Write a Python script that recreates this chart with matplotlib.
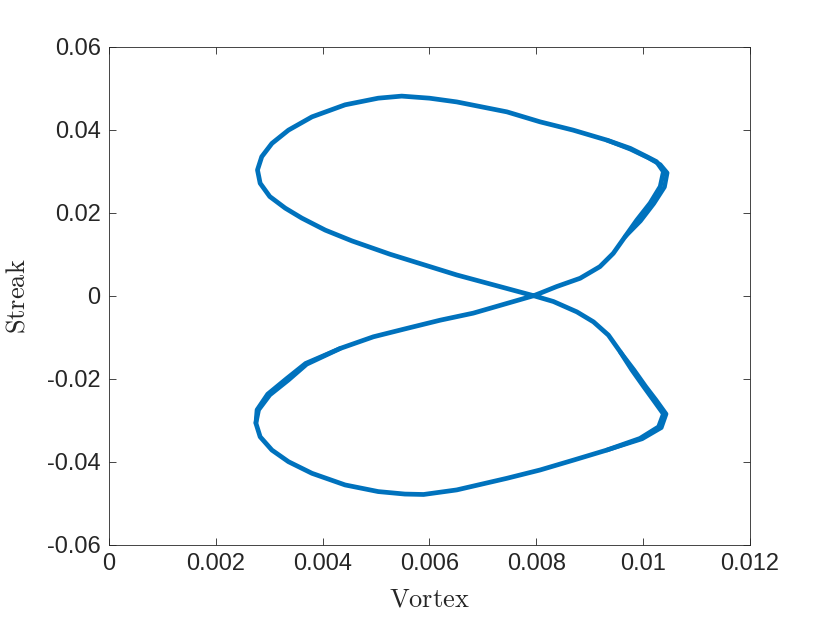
import matplotlib
matplotlib.use('Agg')
import matplotlib.pyplot as plt

plt.rcParams['mathtext.fontset'] = 'cm'

# phase portrait points (one full loop, starting at the crossing)
vortex = [0.00795, 0.00807, 0.00838, 0.00882, 0.00919, 0.00944, 0.00966, 0.00988,
          0.01013, 0.01032, 0.01038, 0.01025, 0.01007, 0.00976, 0.00932, 0.00869,
          0.00807, 0.00745, 0.00651, 0.0060, 0.00548, 0.00504, 0.00442, 0.0038,
          0.00336, 0.00305, 0.00286, 0.00278, 0.00283, 0.00301, 0.0033, 0.00361,
          0.00405, 0.00455, 0.00526, 0.00651, 0.00795,
          0.00832, 0.00876, 0.00907, 0.00935, 0.00957, 0.00979, 0.01001, 0.01019,
          0.01038, 0.01029,
          0.00994, 0.00932, 0.0087, 0.00807, 0.00745, 0.00651, 0.00589, 0.00554,
          0.00504, 0.00442, 0.0038, 0.00336, 0.00305, 0.00283, 0.00275, 0.0028,
          0.00301, 0.00336, 0.0037, 0.00433, 0.00495, 0.00557, 0.0062, 0.00682,
          0.00795]
streak = [0.0, 0.0006, 0.0022, 0.0042, 0.0070, 0.0102, 0.0142, 0.0182,
          0.0223, 0.0263, 0.0299, 0.0323, 0.0335, 0.0355, 0.0375, 0.0399,
          0.0419, 0.0443, 0.0467, 0.0476, 0.0481, 0.0476, 0.0460, 0.0431,
          0.0399, 0.0367, 0.0335, 0.0303, 0.0271, 0.0239, 0.0211, 0.0187,
          0.0158, 0.0132, 0.0100, 0.0050, 0.0,
          -0.0014, -0.0039, -0.0063, -0.0095, -0.0135, -0.0179, -0.0219, -0.0251,
          -0.0285, -0.0316,
          -0.0344, -0.0372, -0.0396, -0.0420, -0.0440, -0.0468, -0.0479, -0.0478,
          -0.0472, -0.0456, -0.0428, -0.0400, -0.0372, -0.0340, -0.0307, -0.0275,
          -0.0239, -0.0203, -0.0165, -0.0127, -0.0099, -0.0079, -0.0059, -0.0042,
          0.0]

# later laps that drift a little off the first one (thicker bands near the cusps)
lap2_up_x = [0.00932, 0.00976, 0.01010, 0.01032, 0.01045, 0.01040, 0.01020, 0.00995, 0.00966]
lap2_up_y = [0.0375, 0.0353, 0.0332, 0.0316, 0.0296, 0.0262, 0.0222, 0.0180, 0.0142]
lap2_lo_x = [0.00957, 0.00983, 0.01005, 0.01024, 0.01043, 0.01034, 0.00998, 0.00932]
lap2_lo_y = [-0.0135, -0.0179, -0.0219, -0.0251, -0.0285, -0.0318, -0.0345, -0.0372]
lap2_left_x = [0.00433, 0.00368, 0.00332, 0.00297, 0.00277, 0.00275]
lap2_left_y = [-0.0127, -0.0163, -0.0200, -0.0237, -0.0275, -0.0307]

xticks = [0, 0.002, 0.004, 0.006, 0.008, 0.01, 0.012]
xlabels = ['0', '0.002', '0.004', '0.006', '0.008', '0.01', '0.012']
yticks = [-0.06, -0.04, -0.02, 0, 0.02, 0.04, 0.06]
ylabels = ['-0.06', '-0.04', '-0.02', '0', '0.02', '0.04', '0.06']

blue = '#0072BD'
grey = '#262626'
fig = plt.figure(figsize=(8.3, 6.23), dpi=100)
ax = fig.add_axes([0.1313, 0.1257, 0.7723, 0.7993])
ax.plot(vortex, streak, color=blue, linewidth=3.4,
        solid_joinstyle='round', solid_capstyle='round')
for lx, ly in [(lap2_up_x, lap2_up_y), (lap2_lo_x, lap2_lo_y), (lap2_left_x, lap2_left_y)]:
    ax.plot(lx, ly, color=blue, linewidth=3.2,
            solid_joinstyle='round', solid_capstyle='round')

ax.set_xlim(0, 0.012)
ax.set_ylim(-0.06, 0.06)
ax.set_xticks(xticks)
ax.set_xticklabels(xlabels)
ax.set_yticks(yticks)
ax.set_yticklabels(ylabels)
ax.tick_params(direction='in', top=True, right=True, length=5, width=0.6,
               colors=grey, labelsize=17, pad=6)
for lab in ax.get_xticklabels() + ax.get_yticklabels():
    lab.set_family('Liberation Sans')
for s in ax.spines.values():
    s.set_color(grey)
    s.set_linewidth(0.6)

ax.set_xlabel(r'$\mathrm{Vortex}$', fontsize=19, color=grey, labelpad=8)
ax.set_ylabel(r'$\mathrm{Streak}$', fontsize=19, color=grey, labelpad=12)

fig.savefig('out.png', dpi=100)
